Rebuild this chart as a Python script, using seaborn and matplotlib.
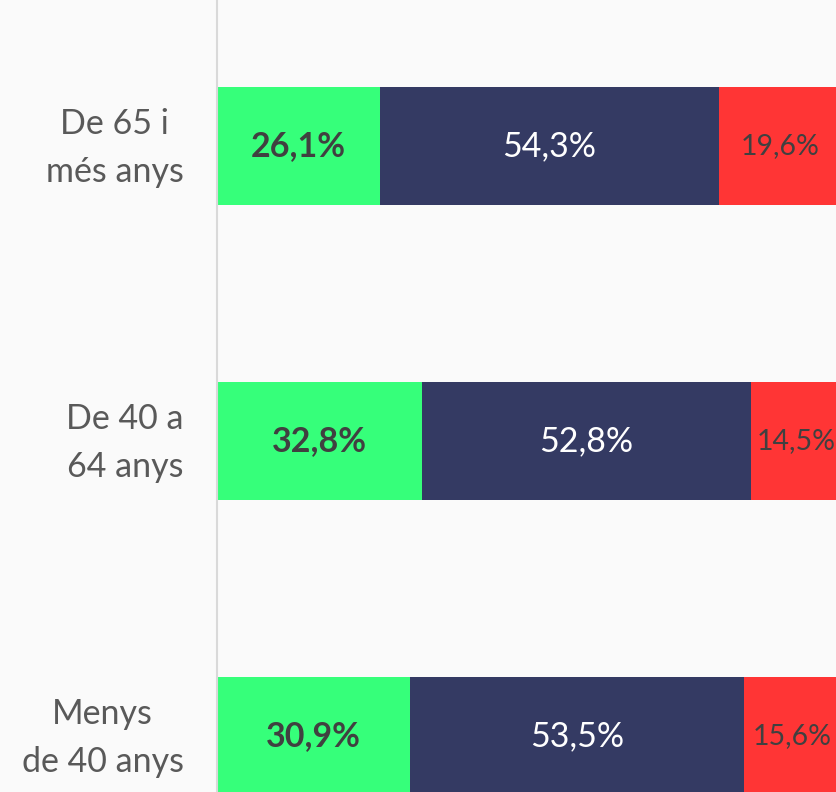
import matplotlib
matplotlib.use("Agg")
import matplotlib.pyplot as plt
import matplotlib.transforms as mtransforms
import seaborn as sns
import pandas as pd
import numpy as np

# Age groups, top to bottom
groups = ["De 65 i\nmés anys", "De 40 a\n64 anys", "Menys\nde 40 anys"]
green_pct = [26.1, 32.8, 30.9]
navy_pct = [54.3, 52.8, 53.5]
red_pct = [19.6, 14.5, 15.6]

GREEN = "#36FF7A"
NAVY = "#343A63"
RED = "#FF3535"
BG = "#FAFAFA"

sns.set_theme(style="white")
plt.rcParams["font.family"] = ["Lato", "DejaVu Sans"]

df = pd.DataFrame({"group": groups, "green": green_pct, "navy": navy_pct, "red": red_pct})
df["cum_navy"] = df["green"] + df["navy"]
df["cum_red"] = df["cum_navy"] + df["red"]

fig = plt.figure(figsize=(8.36, 7.92), dpi=100, facecolor=BG)
ax = fig.add_axes([217 / 836, 0.0, 624 / 836, 1.0])
ax.set_facecolor(BG)

# Stacked horizontal bars: draw cumulative totals from the back to the front
for col, color in [("cum_red", RED), ("cum_navy", NAVY), ("green", GREEN)]:
    sns.barplot(data=df, x=col, y="group", orient="h", color=color,
                width=0.4, linewidth=0, saturation=1, ax=ax)

ax.set_xlim(0, 100)
ax.set_ylim(2.1898, -0.4949)
ax.set_xlabel("")
ax.set_ylabel("")
ax.set_xticks([])

for side in ["top", "right", "bottom"]:
    ax.spines[side].set_visible(False)
ax.spines["left"].set_color("#D9D9D9")
ax.spines["left"].set_linewidth(1.5)

ax.tick_params(axis="y", length=0, pad=24, labelsize=24.5, labelcolor="#595959")
lift = mtransforms.ScaledTranslation(0, 9 / 100, fig.dpi_scale_trans)
for lbl in ax.get_yticklabels():
    lbl.set_multialignment("center")
    lbl.set_linespacing(1.6)
    lbl.set_transform(lbl.get_transform() + lift)

def fmt(v):
    return f"{v:.1f}%".replace(".", ",")

for i in range(len(groups)):
    g, n, r = green_pct[i], navy_pct[i], red_pct[i]
    ax.text(g / 2, i, fmt(g), ha="center", va="center", fontsize=24.5,
            fontweight="bold", color="#404040")
    ax.text(g + n / 2, i, fmt(n), ha="center", va="center", fontsize=24.5,
            color="white")
    ax.text(g + n + r / 2, i, fmt(r), ha="center", va="center", fontsize=20.5,
            color="#404040")

fig.savefig("out.png", dpi=100, facecolor=BG)
